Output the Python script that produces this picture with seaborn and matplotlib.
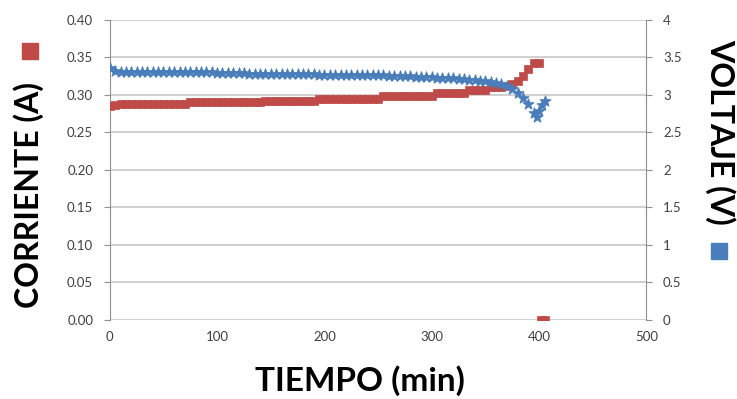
import matplotlib
matplotlib.use("Agg")
import matplotlib.pyplot as plt
import seaborn as sns
import pandas as pd
from matplotlib.lines import Line2D

sns.set_style("white")
plt.rcParams['font.family'] = ['Lato', 'DejaVu Sans']

# Corriente (A) vs tiempo (min)
t_current = [0, 5, 10, 15, 20, 25, 30, 35, 40, 45, 50, 55, 60, 65, 70, 75, 80, 85, 90, 95,
             100, 105, 110, 115, 120, 125, 130, 135, 140, 145, 150, 155, 160, 165, 170, 175,
             180, 185, 190, 195, 200, 205, 210, 215, 220, 225, 230, 235, 240, 245, 250, 255,
             260, 265, 270, 275, 280, 285, 290, 295, 300, 305, 310, 315, 320, 325, 330, 335,
             340, 345, 350, 355, 360, 365, 370, 375, 380, 385, 390, 395, 400, 402, 406]
corriente = [0.285, 0.287, 0.288, 0.288, 0.288, 0.288, 0.288, 0.288, 0.288, 0.288, 0.288,
             0.288, 0.288, 0.288, 0.288, 0.290, 0.290, 0.290, 0.290, 0.290, 0.290, 0.290,
             0.290, 0.290, 0.290, 0.290, 0.290, 0.290, 0.290, 0.292, 0.292, 0.292, 0.292,
             0.292, 0.292, 0.292, 0.292, 0.292, 0.292, 0.295, 0.295, 0.295, 0.295, 0.295,
             0.295, 0.295, 0.295, 0.295, 0.295, 0.295, 0.295, 0.298, 0.298, 0.298, 0.298,
             0.298, 0.298, 0.298, 0.298, 0.298, 0.298, 0.302, 0.302, 0.302, 0.302, 0.302,
             0.302, 0.306, 0.306, 0.306, 0.306, 0.310, 0.310, 0.310, 0.312, 0.315, 0.318,
             0.325, 0.335, 0.342, 0.342, 0.0, 0.0]

# Voltaje (V) vs tiempo (min)
t_voltage = [0, 5, 10, 15, 20, 25, 30, 35, 40, 45, 50, 55, 60, 65, 70, 75, 80, 85, 90, 95,
             100, 105, 110, 115, 120, 125, 130, 135, 140, 145, 150, 155, 160, 165, 170, 175,
             180, 185, 190, 195, 200, 205, 210, 215, 220, 225, 230, 235, 240, 245, 250, 255,
             260, 265, 270, 275, 280, 285, 290, 295, 300, 305, 310, 315, 320, 325, 330, 335,
             340, 345, 350, 355, 360, 365, 370, 375, 380, 385, 390, 395, 398, 400, 403, 406]
voltaje = [3.36, 3.32, 3.31, 3.31, 3.31, 3.31, 3.30, 3.30, 3.30, 3.30, 3.30, 3.30, 3.30,
           3.30, 3.30, 3.30, 3.30, 3.30, 3.30, 3.30, 3.29, 3.29, 3.29, 3.29, 3.29, 3.29,
           3.28, 3.28, 3.28, 3.28, 3.28, 3.28, 3.28, 3.28, 3.28, 3.28, 3.28, 3.28, 3.28,
           3.27, 3.27, 3.27, 3.27, 3.27, 3.27, 3.27, 3.26, 3.26, 3.26, 3.26, 3.26, 3.26,
           3.25, 3.25, 3.25, 3.25, 3.25, 3.24, 3.24, 3.24, 3.24, 3.23, 3.23, 3.22, 3.22,
           3.21, 3.21, 3.20, 3.20, 3.19, 3.18, 3.17, 3.16, 3.14, 3.12, 3.08, 3.03, 2.96,
           2.88, 2.76, 2.70, 2.78, 2.86, 2.92]

x_ticks = [0, 100, 200, 300, 400, 500]
left_ticks = [0.00, 0.05, 0.10, 0.15, 0.20, 0.25, 0.30, 0.35, 0.40]
right_ticks = [0, 0.5, 1, 1.5, 2, 2.5, 3, 3.5, 4]
right_labels = ["0", "0.5", "1", "1.5", "2", "2.5", "3", "3.5", "4"]

red = "#be4b48"
blue = "#4a7ebb"
grid_c = "#c8c8c8"
tick_c = "#404040"

df_c = pd.DataFrame({"t": t_current, "I": corriente})
df_v = pd.DataFrame({"t": t_voltage, "V": voltaje})

fig = plt.figure(figsize=(7.37, 3.99), dpi=100)
ax = fig.add_axes([0.149, 0.198, 0.728, 0.752])
ax2 = ax.twinx()

sns.scatterplot(data=df_c, x="t", y="I", ax=ax, marker="s", s=30, color=red,
                edgecolor=red, linewidth=0.5, zorder=3)
sns.scatterplot(data=df_v, x="t", y="V", ax=ax2, marker="*", s=65, color=blue,
                edgecolor=blue, linewidth=0.8, zorder=3)

ax.set_xlim(0, 500)
ax.set_ylim(0, 0.40)
ax2.set_ylim(0, 4)
ax.set_xticks(x_ticks)
ax.set_yticks(left_ticks)
ax.set_yticklabels([f"{v:.2f}" for v in left_ticks])
ax2.set_yticks(right_ticks)
ax2.set_yticklabels(right_labels)

ax.grid(axis="y", color=grid_c, linewidth=1.2)
ax.set_axisbelow(True)
for a in (ax, ax2):
    for s in a.spines.values():
        s.set_visible(False)
ax.spines["left"].set_visible(True)
ax.spines["left"].set_color("#909090")
ax2.spines["right"].set_visible(True)
ax2.spines["right"].set_color("#909090")

ax.tick_params(axis="both", labelsize=9.5, colors=tick_c, length=4, width=0.8)
ax.tick_params(axis="x", length=0, pad=8)
ax.tick_params(axis="y", color="#909090", labelcolor=tick_c, pad=8)
ax2.tick_params(axis="y", labelsize=9.5, color="#909090", labelcolor=tick_c, length=4, pad=8)

ax.set_xlabel("TIEMPO (min)", fontsize=24, fontweight="bold", color="black", va="center")
ax.xaxis.set_label_coords((360 - 110) / 536, (320 - 381) / 300)
ax.set_ylabel("CORRIENTE (A)", fontsize=23, fontweight="bold", color="black", va="center")
ax.yaxis.set_label_coords((29 - 110) / 536, (320 - 195) / 300)
ax2.set_ylabel("VOLTAJE (V)", fontsize=23, fontweight="bold", color="black",
               rotation=270, va="center")
ax2.yaxis.set_label_coords((720 - 110) / 536, (320 - 132) / 300)

# legend markers beside the axis titles
fig.legend(handles=[Line2D([], [], marker="s", linestyle="", color=red, markersize=11)],
           labels=[""], loc="center", bbox_to_anchor=(30 / 737, 1 - 52 / 399),
           frameon=False, handlelength=0, handletextpad=0, borderpad=0)
fig.legend(handles=[Line2D([], [], marker="s", linestyle="", color=blue, markersize=11)],
           labels=[""], loc="center", bbox_to_anchor=(719 / 737, 1 - 252 / 399),
           frameon=False, handlelength=0, handletextpad=0, borderpad=0)

fig.savefig("out.png", dpi=100)
